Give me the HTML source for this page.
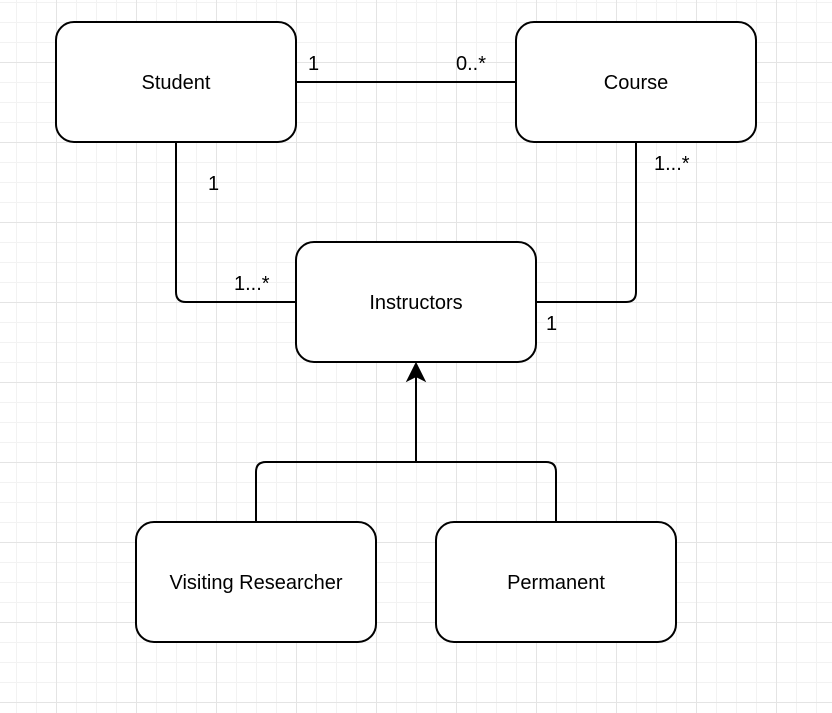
<!DOCTYPE html>
<html><head><style>
html,body{margin:0;padding:0;background:#fff;}
body{width:832px;height:713px;overflow:hidden;
background-image:
linear-gradient(to right,#e4e4e4 1px,transparent 1px),
linear-gradient(to bottom,#e4e4e4 1px,transparent 1px),
linear-gradient(to right,#f2f2f2 1px,transparent 1px),
linear-gradient(to bottom,#f2f2f2 1px,transparent 1px);
background-size:80px 80px,80px 80px,20px 20px,20px 20px;
background-position:56px 62px,56px 62px,16px 2px,16px 2px;}
svg{position:absolute;left:0;top:0;}
text{font-family:"Liberation Sans",Arial,sans-serif;font-size:20px;fill:#000;}
</style></head><body>
<svg width="832" height="713" viewBox="0 0 832 713">
<g fill="#fff" stroke="#000" stroke-width="2">
<rect x="56" y="22" width="240" height="120" rx="18"/>
<rect x="516" y="22" width="240" height="120" rx="18"/>
<rect x="296" y="242" width="240" height="120" rx="18"/>
<rect x="136" y="522" width="240" height="120" rx="18"/>
<rect x="436" y="522" width="240" height="120" rx="18"/>
</g>
<g fill="none" stroke="#000" stroke-width="2">
<path d="M296 82H516"/>
<path d="M176 142V292Q176 302 186 302H296"/>
<path d="M636 142V292Q636 302 626 302H536"/>
<path d="M256 522V472Q256 462 266 462H546Q556 462 556 472V522"/>
<path d="M416 462V376"/>
</g>
<path d="M416 364L408 380L416 376L424 380Z" fill="#000" stroke="#000" stroke-width="2"/>
<g text-anchor="middle">
<text x="176" y="89">Student</text>
<text x="636" y="89">Course</text>
<text x="416" y="309">Instructors</text>
<text x="256" y="589">Visiting Researcher</text>
<text x="556" y="589">Permanent</text>
</g>
<text x="308" y="70">1</text>
<text x="456" y="70">0..*</text>
<text x="208" y="190">1</text>
<text x="234" y="290">1...*</text>
<text x="654" y="170">1...*</text>
<text x="546" y="330">1</text>
</svg>
</body></html>
